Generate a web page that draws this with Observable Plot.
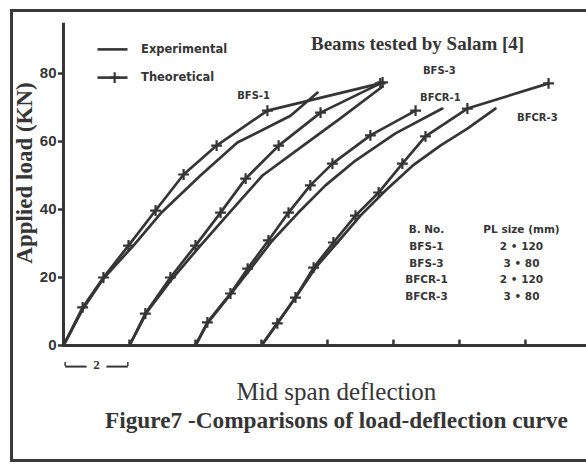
<!DOCTYPE html>
<html><head><meta charset="utf-8">
<script src="https://cdn.jsdelivr.net/npm/d3@7"></script>
<script src="https://cdn.jsdelivr.net/npm/@observablehq/plot@0.6"></script>
<style>
body{margin:0;background:#fff;}
#wrap{position:relative;width:586px;height:472px;overflow:hidden;background:#fff;}
#wrap svg{position:absolute;left:0;top:0;}
#border{position:absolute;left:10px;top:9px;width:620px;height:447px;border-left:3px solid #3a3a3a;border-top:3px solid #3a3a3a;border-bottom:3px solid #3a3a3a;pointer-events:none;z-index:2;}
</style></head><body><div id="wrap"><div id="border"></div></div>
<script>
// Beam BFS-1
const bfs1TheoX = [0, 0.58, 1.21, 1.97, 2.79, 3.64, 4.64, 6.18, 9.60];
const bfs1TheoY = [0, 11.2, 20.0, 29.4, 39.7, 50.3, 58.8, 69.1, 77.1];
const bfs1ExpX  = [0, 0.58, 1.21, 2.12, 2.94, 4.15, 5.27, 6.88, 7.70];
const bfs1ExpY  = [0, 10.6, 19.7, 29.4, 38.8, 50.0, 59.7, 67.6, 74.4];
// Beam BFS-3
const bfs3TheoX = [2.00, 2.48, 3.24, 4.00, 4.76, 5.52, 6.52, 7.79, 9.67];
const bfs3TheoY = [0, 9.4, 20.0, 29.4, 39.1, 49.1, 58.8, 68.5, 77.4];
const bfs3ExpX  = [2.00, 2.52, 3.30, 4.15, 5.03, 6.03, 7.18, 8.39, 9.67];
const bfs3ExpY  = [0, 9.7, 19.7, 29.4, 39.1, 50.0, 58.2, 66.8, 76.2];
// Beam BFCR-1
const bfcr1TheoX = [4.00, 4.36, 5.06, 5.58, 6.21, 6.82, 7.48, 8.15, 9.30, 10.67];
const bfcr1TheoY = [0, 6.8, 15.3, 22.6, 30.9, 39.1, 47.1, 53.5, 61.8, 69.1];
const bfcr1ExpX  = [4.00, 4.36, 5.06, 5.67, 6.33, 7.12, 7.94, 8.85, 10.06, 11.48];
const bfcr1ExpY  = [0, 6.5, 15.0, 22.6, 30.9, 39.1, 47.1, 54.4, 62.4, 69.7];
// Beam BFCR-3
const bfcr3TheoX = [6.00, 6.48, 7.03, 7.58, 8.18, 8.85, 9.55, 10.27, 10.97, 12.24, 14.70];
const bfcr3TheoY = [0, 6.5, 14.1, 22.9, 30.3, 38.2, 45.0, 53.5, 61.5, 69.7, 77.1];
const bfcr3ExpX  = [6.00, 6.48, 7.03, 7.64, 8.30, 9.00, 9.76, 10.58, 11.42, 12.24, 13.09];
const bfcr3ExpY  = [0, 6.5, 14.1, 22.9, 30.3, 38.2, 45.6, 52.9, 58.8, 63.8, 69.7];

// Axis ticks
const yTicks = [0, 20, 40, 60, 80];
const xTicks = [2, 4, 6, 8, 10, 12, 14];

// Curve labels
const curveLabels = ["BFS-1", "BFS-3", "BFCR-1", "BFCR-3"];
const curveLabelX = [5.76, 11.39, 11.42, 14.36];
const curveLabelY = [73.5, 80.9, 72.9, 67.1];

// Table
const tableHeads = ["B. No.", "PL size (mm)"];
const tableBeams = ["BFS-1", "BFS-3", "BFCR-1", "BFCR-3"];
const tableSizes = ["2 • 120", "3 • 80", "2 • 120", "3 • 80"];
const tableRowY = [29.1, 24.1, 19.4, 14.4];
const tableHeadY = 34.1;
const tableColX = [11.0, 13.88];

// Legend
const legendLabels = ["Experimental", "Theoretical"];
const legendY = [87.1, 78.8];

const INK = "#353535";
const series = [
  {beam: "BFS-1", type: "Theoretical", xs: bfs1TheoX, ys: bfs1TheoY},
  {beam: "BFS-1", type: "Experimental", xs: bfs1ExpX, ys: bfs1ExpY},
  {beam: "BFS-3", type: "Theoretical", xs: bfs3TheoX, ys: bfs3TheoY},
  {beam: "BFS-3", type: "Experimental", xs: bfs3ExpX, ys: bfs3ExpY},
  {beam: "BFCR-1", type: "Theoretical", xs: bfcr1TheoX, ys: bfcr1TheoY},
  {beam: "BFCR-1", type: "Experimental", xs: bfcr1ExpX, ys: bfcr1ExpY},
  {beam: "BFCR-3", type: "Theoretical", xs: bfcr3TheoX, ys: bfcr3TheoY},
  {beam: "BFCR-3", type: "Experimental", xs: bfcr3ExpX, ys: bfcr3ExpY}
];
const rows = series.flatMap(s => s.xs.map((x, i) => ({key: s.beam + " " + s.type, type: s.type, x, y: s.ys[i], i})));
const theoMarks = rows.filter(d => d.type === "Theoretical" && d.i > 0);

const labels = curveLabels.map((t, i) => ({t, x: curveLabelX[i], y: curveLabelY[i]}));
const tableCells = [
  ...tableHeads.map((t, j) => ({t, x: tableColX[j], y: tableHeadY})),
  ...tableBeams.map((t, i) => ({t, x: tableColX[0], y: tableRowY[i]})),
  ...tableSizes.map((t, i) => ({t, x: tableColX[1], y: tableRowY[i]}))
];
const legendRows = legendLabels.map((t, i) => ({t, y: legendY[i]}));

const smallFont = {fontFamily: "DejaVu Sans", fontWeight: "bold", fill: INK};

const plot = Plot.plot({
  width: 586, height: 472,
  marginLeft: 63, marginRight: 0, marginTop: 20, marginBottom: 127,
  x: {domain: [0, 15.85], axis: null},
  y: {domain: [0, 95.6], axis: null},
  style: {background: "transparent", color: INK},
  marks: [
    // axes
    Plot.ruleX([0], {y1: 0, y2: 94.8, stroke: INK, strokeWidth: 3}),
    Plot.ruleY([0], {x1: 0, x2: 15.85, stroke: INK, strokeWidth: 3}),
    Plot.axisY(yTicks, {tickSize: 5, tickPadding: 2, strokeWidth: 2.5, label: null, fontSize: 15, fontWeight: "bold", fontFamily: "Liberation Sans", fill: INK, stroke: INK}),
    Plot.ruleX(xTicks, {y1: 0, y2: 1.6, stroke: INK, strokeWidth: 2.5}),
    // scale bar "2"
    Plot.link([{a: 0.05, b: 0.7}, {a: 1.3, b: 1.95}], {x1: "a", x2: "b", y1: -6.2, y2: -6.2, stroke: INK, strokeWidth: 2}),
    Plot.ruleX([0.05, 1.95], {y1: -6.2, y2: -5.0, stroke: INK, strokeWidth: 1.5}),
    Plot.text(["2"], {x: 1.0, y: -5.6, fontSize: 13, fontWeight: "bold", fontFamily: "Liberation Serif", fill: INK}),
    // curves
    Plot.line(rows, {x: "x", y: "y", z: "key", stroke: INK, strokeWidth: 2.7, strokeLinejoin: "round"}),
    Plot.dot(theoMarks, {x: "x", y: "y", symbol: "plus", r: 3.6, stroke: INK, strokeWidth: 2.2}),
    // legend
    Plot.link(legendRows, {x1: 1.03, x2: 1.94, y1: "y", y2: "y", stroke: INK, strokeWidth: 2.6}),
    Plot.dot([legendRows[1]], {x: 1.55, y: "y", symbol: "plus", r: 3.6, stroke: INK, strokeWidth: 2.2}),
    Plot.text(legendRows, {x: 2.35, y: "y", text: "t", textAnchor: "start", fontSize: 11.5, ...smallFont}),
    // title
    Plot.text(["Beams tested by Salam [4]"], {x: 10.73, y: 88.8, fontSize: 19, fontWeight: "bold", fontFamily: "Liberation Serif", fill: INK}),
    // curve labels
    Plot.text(labels, {x: "x", y: "y", text: "t", fontSize: 10, ...smallFont}),
    // table
    Plot.text(tableCells, {x: "x", y: "y", text: "t", fontSize: 10.5, ...smallFont}),
    // axis titles and caption
    Plot.text(["Applied load (KN)"], {frameAnchor: "left", rotate: -90, textAnchor: "middle", lineAnchor: "middle", dx: -39, dy: -10, fontSize: 23, fontWeight: "bold", fontFamily: "Liberation Serif", fill: INK}),
    Plot.text(["Mid span deflection"], {x: 8.27, y: -13.8, fontSize: 25, fontFamily: "Liberation Serif", fill: INK}),
    Plot.text(["Figure7 -Comparisons of load-deflection curve"], {x: 8.27, y: -22.1, fontSize: 23.3, fontWeight: "bold", fontFamily: "Liberation Serif", fill: INK})
  ]
});
document.getElementById("wrap").appendChild(plot);
</script>
</body></html>
